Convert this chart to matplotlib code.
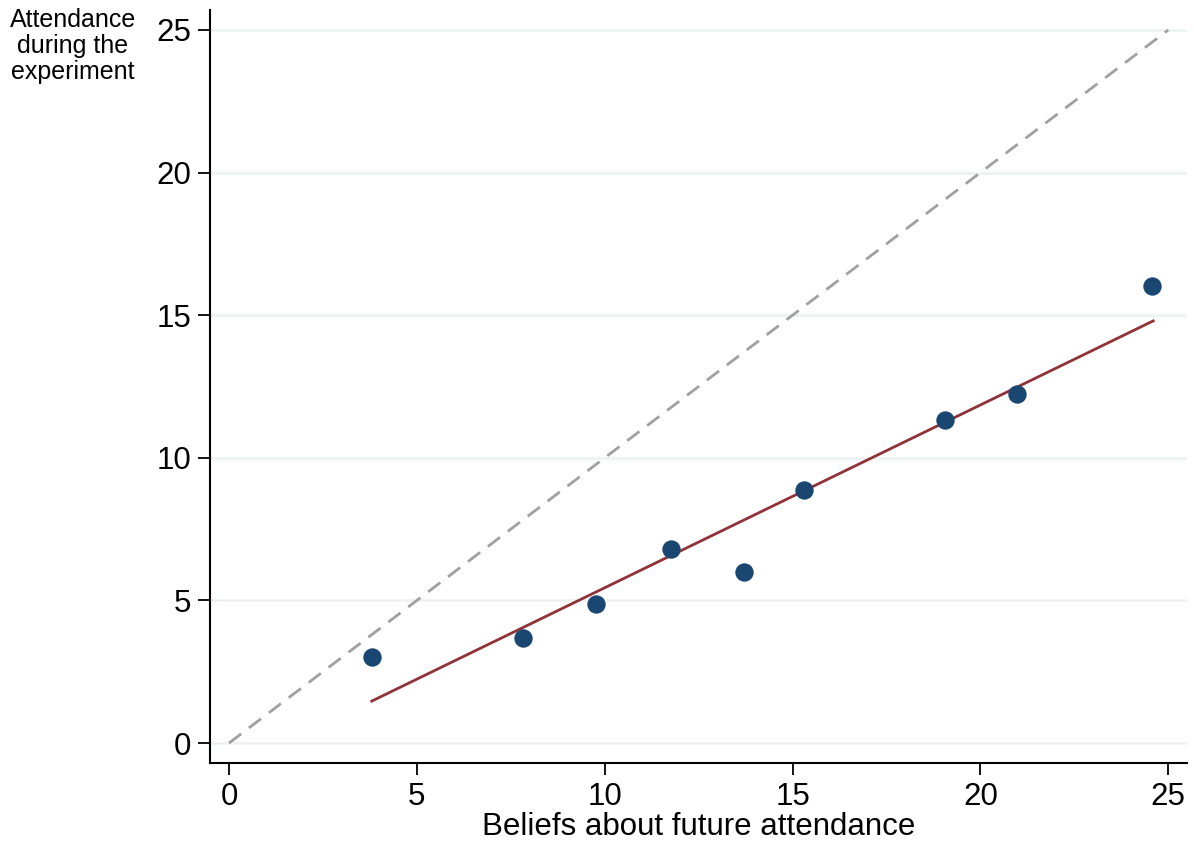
import matplotlib
matplotlib.use("Agg")
import matplotlib.pyplot as plt
import numpy as np

plt.rcParams['font.family'] = ['Liberation Sans', 'DejaVu Sans']

beliefs = [3.8, 7.83, 9.77, 11.77, 13.71, 15.31, 19.06, 20.98, 24.57]
attendance = [3.02, 3.68, 4.87, 6.80, 6.00, 8.87, 11.33, 12.24, 16.02]
fit_x = [3.8, 24.6]
fit_y = [1.47, 14.80]
diag = [0, 25]
ticks = [0, 5, 10, 15, 20, 25]

fig = plt.figure(figsize=(11.94, 8.46), dpi=100)
ax = fig.add_axes([210/1194, (846-763)/846, (1187-210)/1194, (763-10)/846])

ax.set_xlim(-0.506, 25.5)
ax.set_ylim(-0.70, 25.7)
for t in ticks:
    ax.axhline(t, color='#eaf2f3', lw=1.8, zorder=0)

ax.plot(diag, diag, color='#a0a0a0', lw=2, dashes=(5.5, 3.5), zorder=2)
ax.plot(fit_x, fit_y, color='#903238', lw=2, zorder=3)
ax.scatter(beliefs, attendance, s=175, color='#1a4672', zorder=4, linewidths=0)

for s in ['top', 'right']:
    ax.spines[s].set_visible(False)
for s in ['left', 'bottom']:
    ax.spines[s].set_linewidth(1.5)
ax.set_xticks(ticks)
ax.set_yticks(ticks)
ax.tick_params(axis='both', labelsize=22.5, length=8.5, width=1.3, pad=5)
ax.set_xlabel('Beliefs about future attendance', fontsize=22.5, labelpad=0)
fig.text(73/1194, 1 - 8/846, 'Attendance\nduring the\nexperiment', ha='center', va='top',
         fontsize=18, linespacing=1.1)

fig.savefig('out.png', dpi=100)
